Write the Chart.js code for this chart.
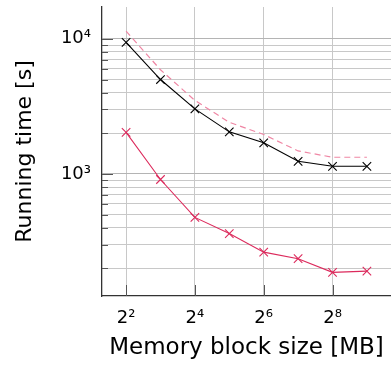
<!DOCTYPE html>
<html>
<head>
<meta charset="utf-8">
<script src="https://cdn.jsdelivr.net/npm/chart.js@4/dist/chart.umd.min.js"></script>
<style>
  html, body { margin: 0; padding: 0; background: #ffffff; }
  #c { display: block; }
</style>
</head>
<body>
<canvas id="c" width="391" height="372"></canvas>
<script>
// ---- data ----
const blockSizesMB = [4, 8, 16, 32, 64, 128, 256, 512];
const timeBlack    = [9400, 5000, 3030, 2050, 1700, 1240, 1140, 1140];
const timeRed      = [2030, 910, 477, 362, 264, 236, 187, 191];
const timeTotal    = [11400, 5900, 3500, 2410, 1960, 1480, 1330, 1330];

const xTickValues = [4, 16, 64, 256];
const xTickLabels = ['2\u00B2', '2\u2074', '2\u2076', '2\u2078'];
const yMajorValues = [1000, 10000];
const yMajorLabels = ['10\u00B3', '10\u2074'];
const yMinorValues = [200, 300, 400, 500, 600, 700, 800, 900,
                      2000, 3000, 4000, 5000, 6000, 7000, 8000, 9000];

const FONT = '"DejaVu Sans", sans-serif';
const RED = '#dc2a5c';
const PINK = '#ef86a4';

function pts(ys) { return blockSizesMB.map((x, i) => ({ x: x, y: ys[i] })); }

const innerTicks = {
  id: 'innerTicks',
  afterDatasetsDraw(chart) {
    const { ctx, chartArea, scales } = chart;
    ctx.save();
    ctx.strokeStyle = '#555555';
    ctx.lineWidth = 1;
    ctx.beginPath();
    yMajorValues.concat(yMinorValues).forEach(v => {
      const y = Math.round(scales.y.getPixelForValue(v)) + 0.5;
      const len = yMajorValues.includes(v) ? 11 : 6;
      ctx.moveTo(chartArea.left, y);
      ctx.lineTo(chartArea.left + len, y);
    });
    xTickValues.forEach(v => {
      const x = Math.round(scales.x.getPixelForValue(v)) + 0.5;
      ctx.moveTo(x, chartArea.bottom);
      ctx.lineTo(x, chartArea.bottom - 11);
    });
    ctx.stroke();
    ctx.restore();
  }
};

new Chart(document.getElementById('c'), {
  type: 'line',
  data: {
    datasets: [
      {
        data: pts(timeTotal),
        borderColor: PINK,
        borderWidth: 1.2,
        borderDash: [6, 4],
        pointRadius: 0,
        fill: false,
        order: 3
      },
      {
        data: pts(timeBlack),
        borderColor: '#000000',
        borderWidth: 1.1,
        pointStyle: 'crossRot',
        pointRadius: 6,
        pointBorderWidth: 1.1,
        pointBorderColor: '#000000',
        fill: false,
        order: 2
      },
      {
        data: pts(timeRed),
        borderColor: RED,
        borderWidth: 1.1,
        pointStyle: 'crossRot',
        pointRadius: 6,
        pointBorderWidth: 1.1,
        pointBorderColor: RED,
        fill: false,
        order: 1
      }
    ]
  },
  options: {
    responsive: false,
    animation: false,
    layout: { autoPadding: false, padding: { top: 7, right: 0, left: 0, bottom: 0 } },
    plugins: { legend: { display: false }, tooltip: { enabled: false } },
    scales: {
      x: {
        type: 'logarithmic',
        min: Math.pow(2, 1.3),
        max: Math.pow(2, 9.7),
        afterBuildTicks(scale) { scale.ticks = xTickValues.map(v => ({ value: v })); },
        afterFit(scale) { scale.height = 76; scale.paddingLeft = 0; scale.paddingRight = 0; },
        ticks: {
          autoSkip: false,
          maxRotation: 0,
          padding: 12,
          color: '#000000',
          font: { family: FONT, size: 18 },
          callback(value) {
            const i = xTickValues.indexOf(value);
            return i >= 0 ? xTickLabels[i] : '';
          }
        },
        grid: { color: '#c8c8c8', lineWidth: 1, drawTicks: false },
        border: { color: '#333333', width: 1.3 },
        title: {
          display: true,
          text: 'Memory block size [MB]',
          color: '#000000',
          font: { family: FONT, size: 23 },
          padding: { top: 0, bottom: 10 }
        }
      },
      y: {
        type: 'logarithmic',
        min: 125,
        max: 17200,
        afterBuildTicks(scale) {
          scale.ticks = yMinorValues.concat(yMajorValues).sort((a, b) => a - b).map(v => ({ value: v }));
        },
        afterFit(scale) { scale.width = 102; scale.paddingTop = 0; scale.paddingBottom = 0; },
        ticks: {
          autoSkip: false,
          padding: 11,
          color: '#000000',
          font: { family: FONT, size: 18 },
          callback(value) {
            const i = yMajorValues.indexOf(value);
            return i >= 0 ? yMajorLabels[i] : '';
          }
        },
        grid: {
          drawTicks: false,
          lineWidth: 1,
          color(ctx) {
            return (ctx.tick && yMajorValues.includes(ctx.tick.value)) ? '#b4b4b4' : '#c8c8c8';
          }
        },
        border: { color: '#333333', width: 1.3 },
        title: {
          display: true,
          text: 'Running time [s]',
          color: '#000000',
          font: { family: FONT, size: 22 },
          padding: { top: 12, bottom: 0 }
        }
      }
    }
  },
  plugins: [innerTicks]
});
</script>
</body>
</html>
